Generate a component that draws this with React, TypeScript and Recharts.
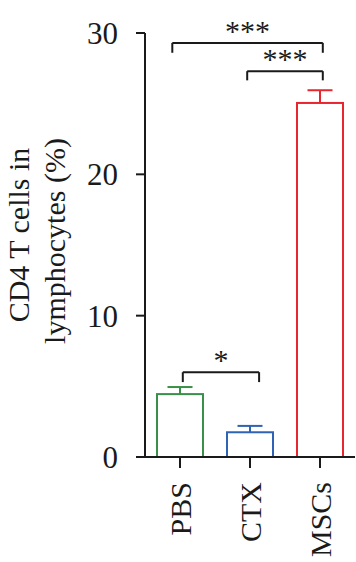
import { BarChart, Bar, XAxis, YAxis, ReferenceLine } from 'recharts';

const groups = ['PBS', 'CTX', 'MSCs'];
const means = [4.45, 1.75, 25.05];
const sems = [0.5, 0.45, 0.9];
const yTicks = [0, 10, 20, 30];

// significance brackets, x in category units (0..3 across the band), y in %
const bracketFrom = [0.39, 1.46, 0.54];
const bracketTo = [2.54, 2.54, 1.63];
const bracketY = [29.3, 27.3, 6.0];
const bracketDrop = [0.7, 0.65, 0.7];
const bracketStars = ['***', '***', '*'];

const barColors = ['#3a8f49', '#2f63b5', '#e8262d'];
const ink = '#1a1a1a';
const font = '"Liberation Serif", "Times New Roman", serif';

const data = groups.map((name, i) => ({ name, mean: means[i], sem: sems[i] }));

const BarWithError = (props: any) => {
  const { x, y, width, height, payload, index } = props;
  const color = barColors[index];
  const perUnit = payload.mean ? height / payload.mean : 0;
  const errTop = y - payload.sem * perUnit;
  const cx = x + width / 2;
  return (
    <g>
      <rect x={x} y={y} width={width} height={height} fill="#fff" stroke={color} strokeWidth={2} />
      <line x1={cx} y1={y} x2={cx} y2={errTop} stroke={color} strokeWidth={2} />
      <line x1={cx - 12.5} y1={errTop} x2={cx + 12.5} y2={errTop} stroke={color} strokeWidth={2} />
    </g>
  );
};

const GroupTick = (props: any) => {
  const { x, y, payload } = props;
  return (
    <text
      transform={`translate(${x + 11},${y + 12}) rotate(-90)`}
      textAnchor="end"
      fontFamily={font}
      fontSize={30}
      fill={ink}
    >
      {payload.value}
    </text>
  );
};

const YTitle = (props: any) => {
  const vb = props.viewBox;
  const cy = vb.y + vb.height / 2 - 7;
  return (
    <g fontFamily={font} fontSize={30} fill={ink}>
      <text transform={`translate(29,${cy - 3}) rotate(-90)`} textAnchor="middle">CD4 T cells in</text>
      <text transform={`translate(65,${cy + 3}) rotate(-90)`} textAnchor="middle">lymphocytes (%)</text>
    </g>
  );
};

const starsLabel = (stars: string) => (props: any) => {
  const vb = props.viewBox;
  return (
    <text x={vb.x + vb.width / 2} y={vb.y - 2} textAnchor="middle" fontFamily={font} fontSize={30} fill={ink}>
      {stars}
    </text>
  );
};

export default function App() {
  return (
    <div style={{ position: 'absolute', left: 0, top: 0, background: '#fff' }}>
      <BarChart width={356} height={562} data={data} margin={{ top: 33, right: 1, bottom: 0, left: 0 }}>
        <XAxis
          dataKey="name"
          height={105}
          tickSize={11}
          tickMargin={2}
          axisLine={{ stroke: ink, strokeWidth: 2 }}
          tickLine={{ stroke: ink, strokeWidth: 2 }}
          tick={<GroupTick />}
          interval={0}
        />
        <XAxis xAxisId="ann" type="number" dataKey={() => 1} domain={[0, 3]} allowDataOverflow hide />
        <YAxis
          width={145}
          domain={[0, 30]}
          ticks={yTicks}
          tickSize={9}
          tickMargin={18}
          axisLine={{ stroke: ink, strokeWidth: 2 }}
          tickLine={{ stroke: ink, strokeWidth: 2 }}
          tick={{ fontFamily: font, fontSize: 31, fill: ink }}
          label={{ content: <YTitle /> }}
        />
        <Bar dataKey="mean" barSize={46} shape={<BarWithError />} isAnimationActive={false} />
        {bracketY.map((yv, i) => (
          <ReferenceLine
            key={`h${i}`}
            xAxisId="ann"
            segment={[{ x: bracketFrom[i], y: yv }, { x: bracketTo[i], y: yv }]}
            stroke={ink}
            strokeWidth={2}
            label={{ content: starsLabel(bracketStars[i]) }}
          />
        ))}
        {bracketY.map((yv, i) => (
          <ReferenceLine
            key={`l${i}`}
            xAxisId="ann"
            segment={[{ x: bracketFrom[i], y: yv }, { x: bracketFrom[i], y: yv - bracketDrop[i] }]}
            stroke={ink}
            strokeWidth={2}
          />
        ))}
        {bracketY.map((yv, i) => (
          <ReferenceLine
            key={`r${i}`}
            xAxisId="ann"
            segment={[{ x: bracketTo[i], y: yv }, { x: bracketTo[i], y: yv - bracketDrop[i] }]}
            stroke={ink}
            strokeWidth={2}
          />
        ))}
      </BarChart>
    </div>
  );
}
